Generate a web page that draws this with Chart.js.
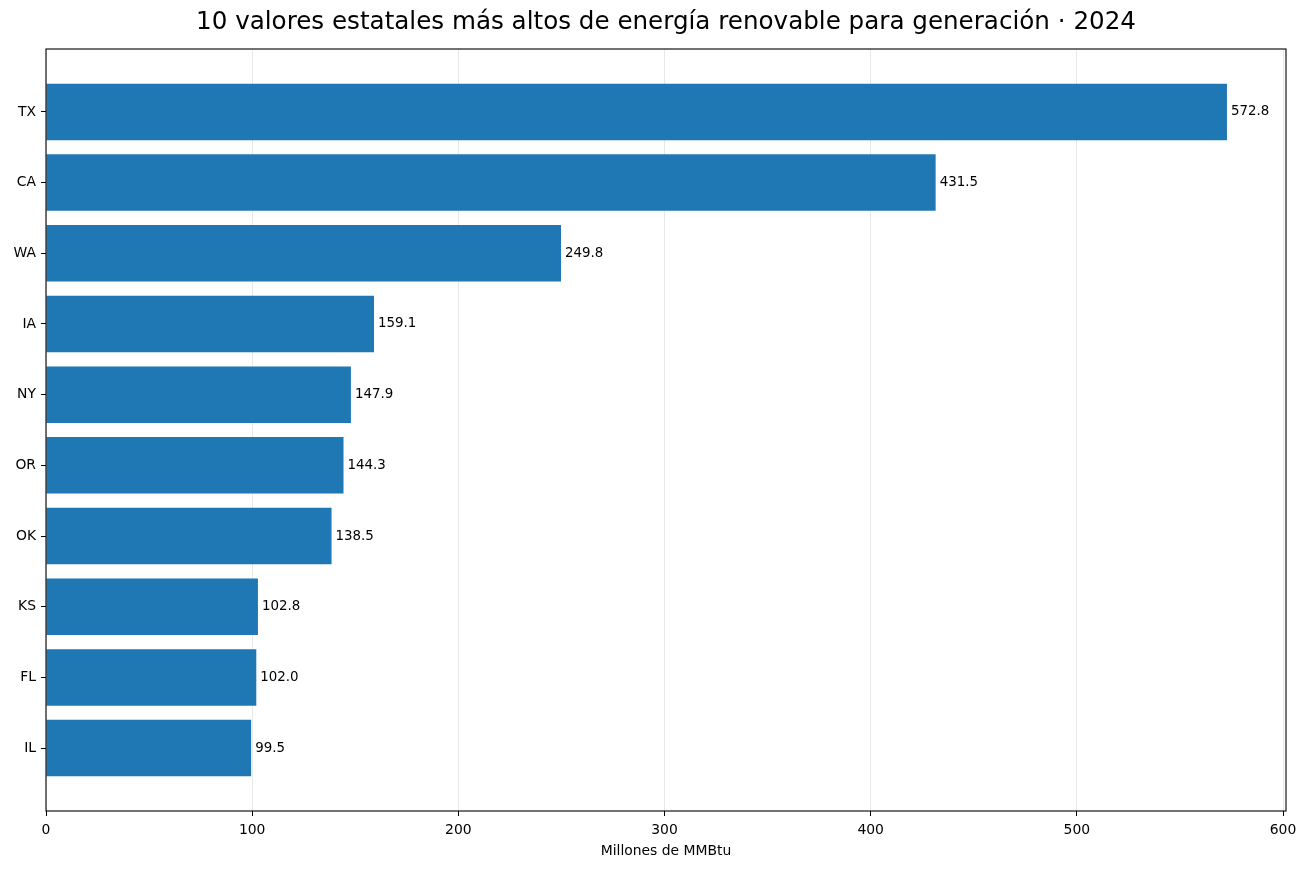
<!DOCTYPE html>
<html lang="es">
<head>
<meta charset="UTF-8">
<title>Energía renovable 2024</title>
<script src="https://cdn.jsdelivr.net/npm/chart.js"></script>
<style>
  html, body { margin: 0; padding: 0; background: #fff; }
  canvas { display: block; }
</style>
</head>
<body>
<canvas id="chart" width="1308" height="869"></canvas>
<script>
// datos
var states = ["TX", "CA", "WA", "IA", "NY", "OR", "OK", "KS", "FL", "IL"];
var values = [572.8, 431.5, 249.8, 159.1, 147.9, 144.3, 138.5, 102.8, 102.0, 99.5];
var xTicks = [0, 100, 200, 300, 400, 500, 600];

var FONT = "'DejaVu Sans', sans-serif";

// titulo + marco del área de trazado + etiquetas de valor
var extras = {
    id: "extras",
    afterDatasetsDraw: function(chart) {
        var ctx = chart.ctx;
        var meta = chart.getDatasetMeta(0);
        ctx.save();
        ctx.fillStyle = "#000";
        ctx.font = "13.4px " + FONT;
        ctx.textAlign = "left";
        ctx.textBaseline = "middle";
        meta.data.forEach(function(bar, i) {
            ctx.fillText(values[i].toFixed(1), bar.x + 4, bar.y);
        });
        ctx.restore();
    },
    afterDraw: function(chart) {
        var ctx = chart.ctx;
        var a = chart.chartArea;
        ctx.save();
        ctx.strokeStyle = "#000";
        ctx.lineWidth = 1.1;
        ctx.strokeRect(a.left, a.top, a.right - a.left, a.bottom - a.top);
        ctx.fillStyle = "#000";
        ctx.font = "24.6px " + FONT;
        ctx.textAlign = "center";
        ctx.textBaseline = "middle";
        ctx.fillText("10 valores estatales más altos de energía renovable para generación · 2024", (a.left + a.right) / 2, 23);
        ctx.restore();
    }
};

new Chart(document.getElementById("chart"), {
    type: "bar",
    data: {
        datasets: [{
            data: states.map(function(s, i) { return { x: values[i], y: i }; }),
            backgroundColor: "#1f77b4",
            borderWidth: 0,
            categoryPercentage: 0.8,
            barPercentage: 1.0
        }]
    },
    options: {
        indexAxis: "y",
        responsive: false,
        animation: false,
        layout: { padding: { top: 49, right: 22, left: 0, bottom: 0 } },
        plugins: {
            legend: { display: false },
            tooltip: { enabled: false }
        },
        scales: {
            x: {
                type: "linear",
                min: 0,
                max: 601.44,
                z: 1,
                afterBuildTicks: function(scale) {
                    scale.ticks = xTicks.map(function(v) { return { value: v }; });
                },
                afterFit: function(scale) { scale.height = 58; },
                grid: {
                    color: "rgba(176,176,176,0.3)",
                    tickColor: "#000",
                    tickLength: 5,
                    lineWidth: 1
                },
                border: { display: false },
                ticks: {
                    color: "#000",
                    font: { family: FONT, size: 13.9 },
                    padding: 6,
                    maxRotation: 0
                },
                title: {
                    display: true,
                    text: "Millones de MMBtu",
                    color: "#000",
                    font: { family: FONT, size: 13.9 },
                    padding: { top: 4, bottom: 9 }
                }
            },
            y: {
                type: "linear",
                reverse: true,
                offset: false,
                min: -0.89,
                max: 9.89,
                afterBuildTicks: function(scale) {
                    scale.ticks = states.map(function(s, i) { return { value: i }; });
                },
                afterFit: function(scale) { scale.width = 46; },
                grid: {
                    offset: false,
                    drawOnChartArea: false,
                    tickColor: "#000",
                    tickLength: 5
                },
                border: { display: false },
                ticks: {
                    color: "#000",
                    font: { family: FONT, size: 13.9 },
                    padding: 5,
                    callback: function(v) { return states[v]; }
                }
            }
        }
    },
    plugins: [extras]
});
</script>
</body>
</html>
